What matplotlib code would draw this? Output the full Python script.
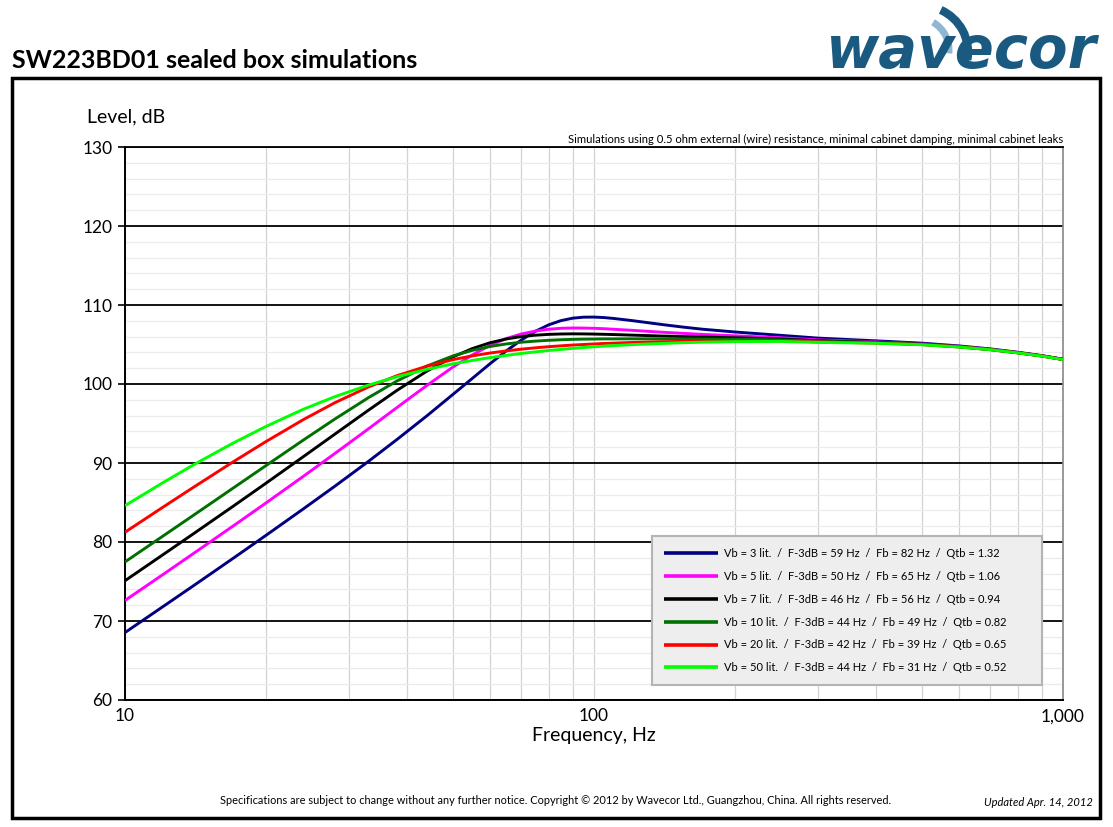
import matplotlib
matplotlib.use('Agg')
import matplotlib.pyplot as plt
from matplotlib.patches import Rectangle, Arc
from matplotlib.ticker import FixedLocator, FixedFormatter, LogLocator, NullFormatter, MultipleLocator

# ---------------- data ----------------
freq = [10, 12, 14, 17, 20, 24, 28, 33, 38, 44,
        50, 55, 60, 65, 70, 75, 80, 85, 90, 95,
        100, 105, 110, 120, 130, 140, 155, 170, 200, 250,
        300, 400, 500, 600, 700, 800, 900, 1000]

level_3l = [68.54, 71.75, 74.47, 77.93, 80.86, 84.19, 87.05, 90.18, 92.97, 95.96,
            98.67, 100.70, 102.56, 104.19, 105.57, 106.67, 107.48, 108.02, 108.33, 108.46,
            108.47, 108.41, 108.30, 108.04, 107.77, 107.52, 107.20, 106.94, 106.58, 106.16,
            105.81, 105.46, 105.17, 104.82, 104.44, 104.02, 103.60, 103.14]
level_5l = [72.60, 75.81, 78.55, 82.02, 84.96, 88.31, 91.19, 94.30, 97.02, 99.81,
            102.13, 103.67, 104.88, 105.75, 106.33, 106.70, 106.93, 107.05, 107.09, 107.08,
            107.05, 107.00, 106.93, 106.80, 106.67, 106.55, 106.41, 106.28, 106.10, 105.85,
            105.59, 105.33, 105.08, 104.76, 104.39, 103.98, 103.58, 103.12]
level_7l = [75.10, 78.32, 81.05, 84.52, 87.46, 90.80, 93.64, 96.66, 99.19, 101.62,
            103.42, 104.48, 105.22, 105.70, 106.01, 106.18, 106.28, 106.33, 106.35, 106.34,
            106.32, 106.29, 106.26, 106.19, 106.13, 106.07, 106.01, 105.94, 105.85, 105.69,
            105.48, 105.27, 105.05, 104.73, 104.37, 103.97, 103.56, 103.11]
level_10l = [77.48, 80.68, 83.39, 86.82, 89.69, 92.90, 95.55, 98.25, 100.38, 102.26,
             103.55, 104.26, 104.75, 105.07, 105.29, 105.43, 105.53, 105.60, 105.65, 105.68,
             105.69, 105.71, 105.71, 105.72, 105.72, 105.71, 105.70, 105.69, 105.67, 105.58,
             105.41, 105.23, 105.02, 104.72, 104.36, 103.96, 103.56, 103.11]
level_20l = [81.24, 84.34, 86.93, 90.14, 92.73, 95.49, 97.62, 99.61, 101.05, 102.25,
             103.08, 103.56, 103.92, 104.19, 104.41, 104.58, 104.72, 104.83, 104.93, 105.00,
             105.07, 105.13, 105.17, 105.25, 105.31, 105.35, 105.40, 105.43, 105.48, 105.46,
             105.32, 105.18, 104.99, 104.69, 104.35, 103.95, 103.55, 103.10]
level_50l = [84.60, 87.45, 89.77, 92.52, 94.64, 96.80, 98.39, 99.85, 100.92, 101.85,
             102.55, 102.98, 103.34, 103.62, 103.87, 104.07, 104.24, 104.38, 104.51, 104.62,
             104.71, 104.79, 104.86, 104.98, 105.07, 105.14, 105.23, 105.29, 105.37, 105.39,
             105.27, 105.16, 104.97, 104.68, 104.34, 103.94, 103.54, 103.09]

vb_litres = [3, 5, 7, 10, 20, 50]
f3db_hz = [59, 50, 46, 44, 42, 44]
fb_hz = [82, 65, 56, 49, 39, 31]
qtb = ['1.32', '1.06', '0.94', '0.82', '0.65', '0.52']
series = [level_3l, level_5l, level_7l, level_10l, level_20l, level_50l]
colors = ['#000080', '#FF00FF', '#000000', '#007000', '#FF0000', '#00FF00']

y_ticks = [60, 70, 80, 90, 100, 110, 120, 130]
x_ticks = [10, 100, 1000]
x_tick_labels = ['10', '100', '1,000']

FONT = ['Lato', 'DejaVu Sans']
plt.rcParams['font.family'] = FONT

W, H = 1113, 827
fig = plt.figure(figsize=(W / 100, H / 100), dpi=100)
fig.patch.set_facecolor('white')


def fx(px):
    return px / W


def fy(py):
    return 1 - py / H


# ---------------- main axes ----------------
ax = fig.add_axes([fx(125), fy(700), (1063 - 125) / W, (700 - 147) / H])
ax.set_xscale('log')
ax.set_xlim(10, 1000)
ax.set_ylim(60, 130)

ax.xaxis.set_major_locator(FixedLocator(x_ticks))
ax.xaxis.set_major_formatter(FixedFormatter(x_tick_labels))
ax.xaxis.set_minor_locator(LogLocator(base=10, subs=range(2, 10)))
ax.xaxis.set_minor_formatter(NullFormatter())
ax.yaxis.set_major_locator(FixedLocator(y_ticks))
ax.yaxis.set_minor_locator(MultipleLocator(2))

ax.grid(which='minor', axis='y', color='#ebebeb', lw=0.9, zorder=0)
ax.grid(which='both', axis='x', color='#d2d2d2', lw=0.9, zorder=0)
ax.grid(which='major', axis='y', color='#000000', lw=1.3, zorder=1)
ax.set_axisbelow(True)

ax.tick_params(axis='y', which='major', length=5, width=1.2, labelsize=12.5, pad=4)
ax.tick_params(axis='x', which='major', length=0, labelsize=12.5, pad=6)
ax.tick_params(which='minor', length=0)

for s in ['left', 'bottom']:
    ax.spines[s].set_color('black')
    ax.spines[s].set_linewidth(1.4)
ax.spines['top'].set_color('black')
ax.spines['top'].set_linewidth(1.3)
ax.spines['right'].set_color('#888888')
ax.spines['right'].set_linewidth(1.2)

for lev, col, v, f3, fb, q in zip(series, colors, vb_litres, f3db_hz, fb_hz, qtb):
    label = f"Vb = {v} lit.  /  F-3dB = {f3} Hz  /  Fb = {fb} Hz  /  Qtb = {q}"
    ax.plot(freq, lev, color=col, lw=2.1, label=label, zorder=3,
            solid_joinstyle='round', solid_capstyle='butt')

ax.set_xlabel('Frequency, Hz', fontsize=14, labelpad=2)

leg = ax.legend(loc='lower left', bbox_to_anchor=(0.5618, 0.0271, 0.4158, 0.2857),
                mode='expand', fontsize=8, frameon=True, fancybox=False,
                facecolor='#eeeeee', edgecolor='#b4b4b4', framealpha=1,
                handlelength=4.9, handletextpad=0.55, labelspacing=1.07,
                borderpad=1.05, borderaxespad=0)
leg.get_frame().set_linewidth(1.5)
for h in leg.legend_handles:
    h.set_linewidth(2.6)

# ---------------- page decoration ----------------
fig.text(fx(87), fy(117), 'Level, dB', fontsize=14, va='center', ha='left')
fig.text(fx(1063), fy(139), 'Simulations using 0.5 ohm external (wire) resistance, '
         'minimal cabinet damping, minimal cabinet leaks', fontsize=8.1, ha='right', va='center')
fig.text(fx(12), fy(68), 'SW223BD01 sealed box simulations', fontsize=18,
         fontweight='bold', ha='left', va='baseline')
fig.text(fx(556), fy(801), 'Specifications are subject to change without any further notice. '
         'Copyright \u00a9 2012 by Wavecor Ltd., Guangzhou, China. All rights reserved.',
         fontsize=7.9, ha='center', va='center')
fig.text(fx(1093), fy(803), 'Updated Apr. 14, 2012', fontsize=8, style='italic',
         ha='right', va='center')

fig.patches.append(Rectangle((fx(12), fy(818)), fx(1100) - fx(12), fy(78) - fy(818),
                             transform=fig.transFigure, fill=False, lw=2.5,
                             ec='black', zorder=10))

# logo
fig.text(fx(826), fy(68), 'wavecor', fontsize=41.5, style='italic', fontweight='bold',
         family=['DejaVu Sans'], color='#1b5a80', ha='left', va='baseline')
ov = fig.add_axes([0, 0, 1, 1], facecolor='none')
ov.set_xlim(0, W)
ov.set_ylim(0, H)
ov.axis('off')
ov.add_patch(Arc((922, H - 52), 92, 92, theta1=-10, theta2=66, lw=6, color='#1b5a80'))
ov.add_patch(Arc((917, H - 50), 64, 64, theta1=-6, theta2=60, lw=5, color='#8fb6d2'))

fig.savefig('out.png', dpi=100)
